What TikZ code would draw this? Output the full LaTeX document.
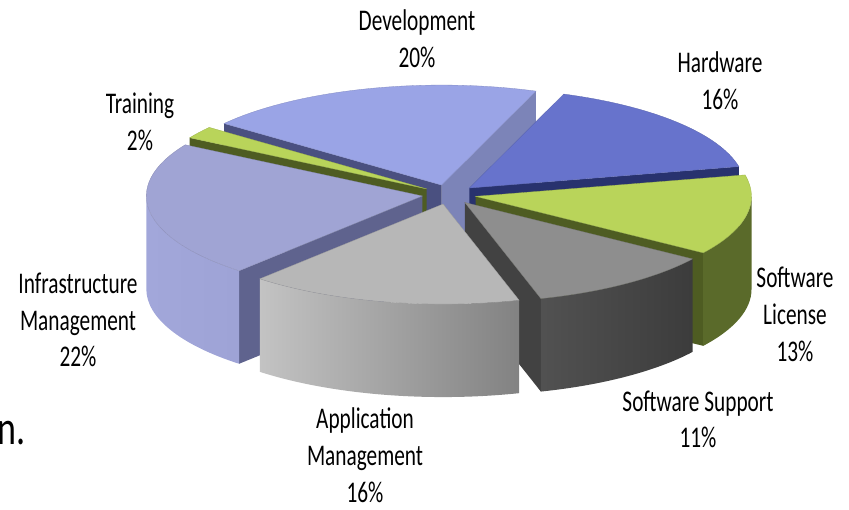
\documentclass[tikz,border=0pt]{standalone}
\usepackage{fontspec}
\setmainfont{Carlito}
\begin{document}
\begin{tikzpicture}[x=1pt,y=1pt,
  lbl/.style={align=center,font=\fontsize{30}{37}\selectfont,xscale=0.71,text=black,inner sep=0pt},
  edge/.style={line width=0.3pt}]
\useasboundingbox (0,0) rectangle (849,509);
\definecolor{devtop}{RGB}{154,164,230}
\definecolor{devfa}{RGB}{124,132,184}
\definecolor{devfb}{RGB}{74,80,128}
\definecolor{hwtop}{RGB}{103,115,204}
\definecolor{hwface}{RGB}{40,50,110}
\definecolor{grtop}{RGB}{185,212,90}
\definecolor{grside}{RGB}{90,106,42}
\definecolor{grface}{RGB}{78,92,34}
\definecolor{sstop}{RGB}{142,142,142}
\definecolor{sssideL}{RGB}{92,92,92}
\definecolor{sssideR}{RGB}{60,60,60}
\definecolor{ssface}{RGB}{66,66,66}
\definecolor{amtop}{RGB}{183,183,183}
\definecolor{amsideL}{RGB}{195,195,195}
\definecolor{amsideR}{RGB}{130,130,130}
\definecolor{intop}{RGB}{160,164,212}
\definecolor{insideL}{RGB}{162,167,218}
\definecolor{insideR}{RGB}{150,155,206}
\definecolor{inface}{RGB}{95,99,142}
\def\RX{276}\def\RY{100}\def\H{93}
\newcommand\sliceat[1]{%
  \pgfmathsetmacro\ox{449+27*cos(#1)}%
  \pgfmathsetmacro\oy{314.5+9.8*sin(#1)}%
  \coordinate (T) at (\ox,\oy);
  \coordinate (B) at (\ox,\oy-\H);}
\newcommand\topface[3]{% a b color
  \fill[#3,draw=#3!85!black,edge] (T) -- ++(#1:\RX\space and \RY) arc[start angle=#1,end angle=#2,x radius=\RX,y radius=\RY] -- cycle;}
\newcommand\radface[2]{% t color
  \fill[#2] (T) -- ++(#1:\RX\space and \RY) -- ++(0,-\H) -- (B) -- cycle;}
\newcommand\sideface[4]{% a b leftcolor rightcolor
  \shade[left color=#3,right color=#4] (T) ++(#1:\RX\space and \RY) arc[start angle=#1,end angle=#2,x radius=\RX,y radius=\RY] -- ++(0,-\H) arc[start angle=#2,end angle=#1,x radius=\RX,y radius=\RY] -- cycle;}
% Development
\sliceat{106}
\radface{70}{devfa}
\radface{142}{devfb}
\topface{70}{142}{devtop}
% Hardware
\sliceat{41.2}
\radface{12.4}{hwface}
\topface{12.4}{70}{hwtop}
% Training
\sliceat{145.6}
\radface{149.2}{grface}
\topface{142}{149.2}{grtop}
% Infrastructure
\sliceat{188.8}
\radface{228.4}{inface}
\sideface{180}{228.4}{insideL}{insideR}
\topface{149.2}{228.4}{intop}
% Software License
\sliceat{-11}
\radface{-34.4}{grface}
\sideface{-34.4}{0}{grside}{grside}
\topface{-34.4}{12.4}{grtop}
% Software Support
\sliceat{-54.2}
\radface{-74}{ssface}
\sideface{-74}{-34.4}{sssideL}{sssideR}
\topface{-74}{-34.4}{sstop}
% Application Management
\sliceat{-102.8}
\sideface{-131.6}{-74}{amsideL}{amsideR}
\topface{-131.6}{-74}{amtop}
% labels (anchor = baseline of the last line)
\node[lbl,anchor=base] (ldev) at (417,441) {Development\\20\%};
\node[lbl,anchor=base] (lhw) at (720,399) {Hardware\\16\%};
\node[lbl,anchor=base] (ltr) at (140,358) {Training\\2\%};
\node[lbl,anchor=base] (lin) at (78,142) {Infrastructure\\Management\\22\%};
\node[lbl,anchor=base] (lsl) at (795,147) {Software\\License\\13\%};
\node[lbl,anchor=base] (lss) at (698,61) {Software Support\\11\%};
\node[lbl,anchor=base] (lam) at (365,7) {Application\\Management\\16\%};
\node[anchor=base east,font=\fontsize{48}{48}\selectfont,xscale=0.75,inner sep=0pt] (frag) at (26,64) {n.};
\end{tikzpicture}
\end{document}
